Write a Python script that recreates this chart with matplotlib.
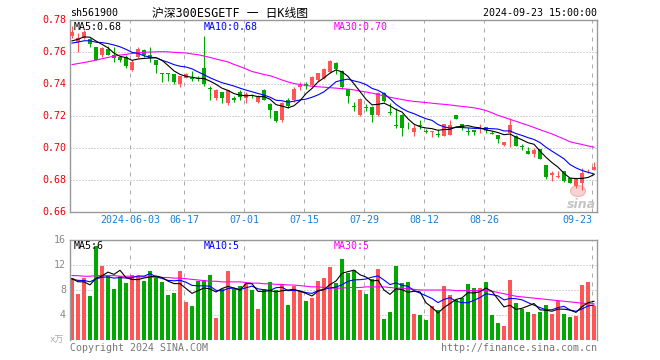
import numpy as np
import pandas as pd
import matplotlib
matplotlib.use('Agg')
import matplotlib.pyplot as plt
from matplotlib.patches import Ellipse

plt.rcParams['font.family'] = ['DejaVu Sans Mono', 'Noto Sans CJK SC']

# 交易日（去掉端午、中秋休市）
holidays = ['2024-06-10', '2024-09-16', '2024-09-17']
dates = pd.bdate_range('2024-05-20', '2024-09-23')
dates = dates[~dates.isin(pd.to_datetime(holidays))]

open_ = [0.7700, 0.7660, 0.7690, 0.7680, 0.7630, 0.7580, 0.7620, 0.7580, 0.7570, 0.7570,
         0.7490, 0.7570, 0.7610, 0.7580, 0.7550, 0.7470, 0.7470, 0.7460, 0.7400, 0.7440,
         0.7440, 0.7435, 0.7500, 0.7375, 0.7310, 0.7350, 0.7280, 0.7310, 0.7350, 0.7310,
         0.7330, 0.7290, 0.7360, 0.7275, 0.7230, 0.7175, 0.7300, 0.7300, 0.7380, 0.7400,
         0.7394, 0.7425, 0.7436, 0.7477, 0.7530, 0.7480, 0.7367, 0.7260, 0.7206, 0.7253,
         0.7256, 0.7206, 0.7342, 0.7222, 0.7145, 0.7206, 0.7133, 0.7102, 0.7145, 0.7108,
         0.7102, 0.7085, 0.7077, 0.7081, 0.7206, 0.7148, 0.7105, 0.7113, 0.7120, 0.7130,
         0.7095, 0.7080, 0.7019, 0.7092, 0.7077, 0.7010, 0.6983, 0.6963, 0.6992, 0.6894,
         0.6831, 0.6820, 0.6856, 0.6814, 0.6764, 0.6783, 0.6848, 0.6863]
high = [0.7760, 0.7720, 0.7740, 0.7690, 0.7630, 0.7630, 0.7640, 0.7630, 0.7570, 0.7580,
        0.7550, 0.7630, 0.7620, 0.7630, 0.7550, 0.7470, 0.7470, 0.7460, 0.7450, 0.7470,
        0.7480, 0.7450, 0.7700, 0.7390, 0.7370, 0.7350, 0.7360, 0.7325, 0.7360, 0.7350,
        0.7340, 0.7330, 0.7370, 0.7280, 0.7230, 0.7290, 0.7310, 0.7380, 0.7410, 0.7410,
        0.7450, 0.7470, 0.7500, 0.7550, 0.7540, 0.7490, 0.7370, 0.7290, 0.7310, 0.7275,
        0.7260, 0.7350, 0.7350, 0.7280, 0.7252, 0.7210, 0.7160, 0.7148, 0.7173, 0.7120,
        0.7105, 0.7110, 0.7150, 0.7175, 0.7206, 0.7150, 0.7130, 0.7113, 0.7150, 0.7130,
        0.7105, 0.7080, 0.7040, 0.7188, 0.7080, 0.7025, 0.7008, 0.7000, 0.6992, 0.6894,
        0.6856, 0.6856, 0.6856, 0.6814, 0.6810, 0.6875, 0.6870, 0.6914]
low = [0.7690, 0.7600, 0.7680, 0.7630, 0.7550, 0.7570, 0.7580, 0.7540, 0.7540, 0.7500,
       0.7480, 0.7560, 0.7570, 0.7540, 0.7470, 0.7410, 0.7420, 0.7400, 0.7380, 0.7440,
       0.7420, 0.7420, 0.7390, 0.7300, 0.7300, 0.7280, 0.7270, 0.7290, 0.7300, 0.7280,
       0.7310, 0.7280, 0.7300, 0.7190, 0.7160, 0.7160, 0.7250, 0.7290, 0.7360, 0.7370,
       0.7390, 0.7420, 0.7430, 0.7470, 0.7460, 0.7370, 0.7280, 0.7230, 0.7200, 0.7230,
       0.7160, 0.7200, 0.7290, 0.7206, 0.7127, 0.7077, 0.7120, 0.7077, 0.7117, 0.7092,
       0.7070, 0.7070, 0.7075, 0.7080, 0.7180, 0.7115, 0.7080, 0.7080, 0.7092, 0.7092,
       0.7085, 0.7030, 0.7015, 0.7008, 0.7010, 0.6988, 0.6960, 0.6945, 0.6930, 0.6806,
       0.6794, 0.6810, 0.6790, 0.6780, 0.6748, 0.6738, 0.6846, 0.6863]
close = [0.7727, 0.7690, 0.7725, 0.7650, 0.7550, 0.7625, 0.7580, 0.7560, 0.7550, 0.7510,
         0.7540, 0.7620, 0.7580, 0.7560, 0.7520, 0.7460, 0.7460, 0.7410, 0.7450, 0.7460,
         0.7430, 0.7430, 0.7400, 0.7370, 0.7360, 0.7310, 0.7360, 0.7300, 0.7320, 0.7340,
         0.7325, 0.7320, 0.7300, 0.7240, 0.7170, 0.7280, 0.7265, 0.7367, 0.7395, 0.7393,
         0.7442, 0.7467, 0.7494, 0.7544, 0.7494, 0.7380, 0.7327, 0.7258, 0.7306, 0.7252,
         0.7206, 0.7342, 0.7294, 0.7221, 0.7140, 0.7127, 0.7130, 0.7127, 0.7140, 0.7102,
         0.7105, 0.7080, 0.7150, 0.7144, 0.7180, 0.7123, 0.7102, 0.7102, 0.7123, 0.7113,
         0.7090, 0.7054, 0.7036, 0.7144, 0.7014, 0.7008, 0.6963, 0.6988, 0.6931, 0.6820,
         0.6842, 0.6821, 0.6794, 0.6783, 0.6806, 0.6846, 0.6850, 0.6883]
# 图中左端之前的收盘价（由均线起点估计）
close_before = [0.763, 0.764, 0.765, 0.764, 0.765, 0.764, 0.765, 0.766, 0.767]
ma30 = [0.7521, 0.7528, 0.7534, 0.7542, 0.7549, 0.7558, 0.7566, 0.7574, 0.7581, 0.7585,
        0.7591, 0.7595, 0.7598, 0.7600, 0.7601, 0.7602, 0.7601, 0.7598, 0.7596, 0.7594,
        0.7588, 0.7583, 0.7575, 0.7566, 0.7556, 0.7547, 0.7538, 0.7522, 0.7509, 0.7494,
        0.7478, 0.7469, 0.7459, 0.7452, 0.7439, 0.7425, 0.7413, 0.7403, 0.7397, 0.7391,
        0.7386, 0.7383, 0.7380, 0.7377, 0.7374, 0.7371, 0.7368, 0.7363, 0.7356, 0.7350,
        0.7343, 0.7334, 0.7326, 0.7317, 0.7310, 0.7303, 0.7296, 0.7291, 0.7288, 0.7284,
        0.7280, 0.7276, 0.7273, 0.7269, 0.7264, 0.7260, 0.7256, 0.7251, 0.7244, 0.7234,
        0.7220, 0.7204, 0.7192, 0.7179, 0.7167, 0.7154, 0.7142, 0.7128, 0.7114, 0.7101,
        0.7088, 0.7072, 0.7056, 0.7039, 0.7030, 0.7022, 0.7013, 0.7005]

# 成交量（万手）
volume = [9.9, 7.3, 10.0, 7.0, 15.1, 11.9, 10.3, 8.2, 10.3, 9.2,
          10.4, 10.2, 9.5, 11.1, 10.0, 9.3, 7.2, 7.5, 11.1, 6.1,
          5.4, 9.4, 9.6, 10.4, 3.6, 8.2, 11.1, 8.2, 8.7, 9.0,
          8.0, 5.0, 8.2, 9.3, 8.0, 8.9, 5.6, 8.7, 7.8, 6.3,
          6.8, 9.5, 10.0, 11.7, 9.2, 13.0, 10.8, 11.2, 8.0, 7.4,
          9.8, 11.4, 3.4, 4.5, 11.9, 9.1, 9.3, 4.2, 4.0, 3.2,
          5.4, 4.8, 8.6, 7.2, 6.4, 6.7, 9.0, 8.3, 8.3, 9.3,
          4.0, 2.7, 2.2, 9.6, 5.9, 5.0, 4.5, 4.2, 4.5, 5.6,
          4.2, 6.2, 4.2, 3.7, 3.8, 8.8, 9.3, 5.4]
volume_before = [9.5, 10.2, 9.0, 10.5, 9.3, 9.8, 10.1, 9.4, 9.9]
vol_ma30 = [10.3, 10.3, 10.2, 10.2, 10.3, 10.3, 10.3, 10.3, 10.2, 10.2,
            10.2, 10.1, 10.1, 10.1, 10.0, 10.0, 10.0, 9.9, 9.9, 9.8,
            9.7, 9.6, 9.5, 9.4, 9.4, 9.3, 9.3, 9.3, 9.3, 9.2,
            9.1, 9.1, 9.0, 9.0, 8.9, 8.9, 8.8, 8.8, 8.7, 8.6,
            8.5, 8.5, 8.4, 8.3, 8.3, 8.3, 8.4, 8.4, 8.4, 8.5,
            8.5, 8.5, 8.5, 8.4, 8.3, 8.3, 8.2, 8.1, 8.0, 8.0,
            8.0, 8.0, 8.0, 8.0, 7.9, 7.9, 7.9, 7.9, 7.9, 7.9,
            7.8, 7.6, 7.4, 7.2, 7.0, 6.9, 6.8, 6.7, 6.6, 6.5,
            6.4, 6.3, 6.2, 6.1, 6.0, 5.9, 5.8, 5.8]

tick_dates = ['2024-06-03', '2024-06-17', '2024-07-01', '2024-07-15',
              '2024-07-29', '2024-08-12', '2024-08-26', '2024-09-23']
tick_labels = ['2024-06-03', '06-17', '07-01', '07-15', '07-29', '08-12', '08-26', '09-23']

RED = '#ff5555'
GREEN = '#00a800'
FRAME = '#999999'
GRID = '#aaaaaa'

W, H = 660, 360


def fx(px):
    return px / W


def fy(py):
    return 1 - py / H


def rolling(before, values, n):
    s = pd.Series(list(before) + list(values))
    return s.rolling(n).mean().to_numpy()[len(before):]


o = np.array(open_)
c = np.array(close)
hi = np.array(high)
lo = np.array(low)
x = np.arange(len(c))
up = c >= o
cols = np.where(up, RED, GREEN)

ma5 = rolling(close_before, close, 5)
ma10 = rolling(close_before, close, 10)
vma5 = rolling(volume_before, volume, 5)
vma10 = rolling(volume_before, volume, 10)

tick_idx = [list(dates.strftime('%Y-%m-%d')).index(d) for d in tick_dates]
grid_x = np.array(tick_idx) - 1 / 3

fig = plt.figure(figsize=(6.6, 3.6), dpi=100)
ax = fig.add_axes([fx(70), fy(212), fx(527), 192 / H])
axv = fig.add_axes([fx(70), fy(340), fx(527), 100 / H])

xlim = (-1 / 3, len(c) - 0.5)

for a in (ax, axv):
    a.set_xlim(*xlim)
    a.set_xticks([])
    a.set_yticks([])
    for s in a.spines.values():
        s.set_color(FRAME)
        s.set_linewidth(1)
    for gx in grid_x:
        a.axvline(gx, color=GRID, lw=0.72, ls=(0, (4, 5)), zorder=0)

# K线
ax.set_ylim(0.66, 0.78)
for gy in [0.76, 0.74, 0.72, 0.70, 0.68]:
    ax.axhline(gy, color=GRID, lw=0.72, ls=(0, (1, 2)), zorder=0)

# 水印（在K线下面）
ax.add_patch(Ellipse((fx(578), fy(191)), fx(15), 11 / H, transform=fig.transFigure,
                     facecolor='#f8d2d2', edgecolor='#f0b4b4', lw=0.8, zorder=1))
ax.text(fx(581), fy(204), 'sina', transform=fig.transFigure, fontsize=9, color='#c4c4c4',
        style='italic', weight='bold', ha='center', va='center', family='DejaVu Sans',
        zorder=1)

ax.vlines(x, lo, hi, colors=cols, lw=0.8, zorder=2)
body = np.maximum(np.abs(c - o), 0.0004)
ax.bar(x, body, bottom=np.minimum(o, c), width=0.75, color=cols, lw=0, zorder=3)
ax.plot(x, ma30, color='#ff00ff', lw=0.8, zorder=4)
ax.plot(x, ma10, color='#0000ff', lw=0.8, zorder=4)
ax.plot(x, ma5, color='black', lw=0.8, zorder=4)

# 成交量
axv.set_ylim(0, 16)
axv.spines['bottom'].set_visible(False)
for gy in [12, 8, 4]:
    axv.axhline(gy, color=GRID, lw=0.72, ls=(0, (1, 2)), zorder=0)
axv.bar(x, volume, width=0.82, color=cols, lw=0, zorder=2)
axv.plot(x, vol_ma30, color='#ff00ff', lw=0.8, zorder=4)
axv.plot(x, vma10, color='#0000ff', lw=0.8, zorder=4)
axv.plot(x, vma5, color='black', lw=0.8, zorder=4)

fs = 7.2
# 刻度文字
for i, p in enumerate(np.arange(0.78, 0.655, -0.02)):
    fig.text(fx(66), fy(20 + 32 * i), '%.2f' % p, color='#ee0000', fontsize=fs,
             ha='right', va='center')
for i, v in enumerate([16, 12, 8, 4]):
    fig.text(fx(66), fy(240 + 25 * i), str(v), color='#888888', fontsize=fs,
             ha='right', va='center')
fig.text(fx(64), fy(340), 'x万', color='#aaaaaa', fontsize=6.5, ha='right', va='center')

for k, (gx, lab) in enumerate(zip(grid_x, tick_labels)):
    px = 72 + 6 * gx
    ha = 'right' if k == len(tick_labels) - 1 else 'center'
    fig.text(fx(px), fy(220), lab, color='#1a7fd6', fontsize=fs, ha=ha, va='center')

# 标题
fig.text(fx(70), fy(13), 'sh561900', fontsize=fs, ha='left', va='center')
fig.text(fx(230), fy(13), '沪深300ESGETF 一 日K线图', fontsize=8.5, ha='center', va='center')
fig.text(fx(597), fy(13), '2024-09-23 15:00:00', fontsize=fs, ha='right', va='center')

# 均线标注
fig.text(fx(74), fy(27), 'MA5:0.68', fontsize=fs, color='black', va='center')
fig.text(fx(204), fy(27), 'MA10:0.68', fontsize=fs, color='#0000ff', va='center')
fig.text(fx(334), fy(27), 'MA30:0.70', fontsize=fs, color='#ff00ff', va='center')
fig.text(fx(74), fy(246), 'MA5:6', fontsize=fs, color='black', va='center')
fig.text(fx(204), fy(246), 'MA10:5', fontsize=fs, color='#0000ff', va='center')
fig.text(fx(334), fy(246), 'MA30:5', fontsize=fs, color='#ff00ff', va='center')

# 版权
fig.text(fx(70), fy(348), 'Copyright 2024 SINA.COM', fontsize=fs, color='#777777',
         ha='left', va='center')
fig.text(fx(597), fy(348), 'http://finance.sina.com.cn', fontsize=fs, color='#777777',
         ha='right', va='center')

fig.savefig('out.png', dpi=100)
